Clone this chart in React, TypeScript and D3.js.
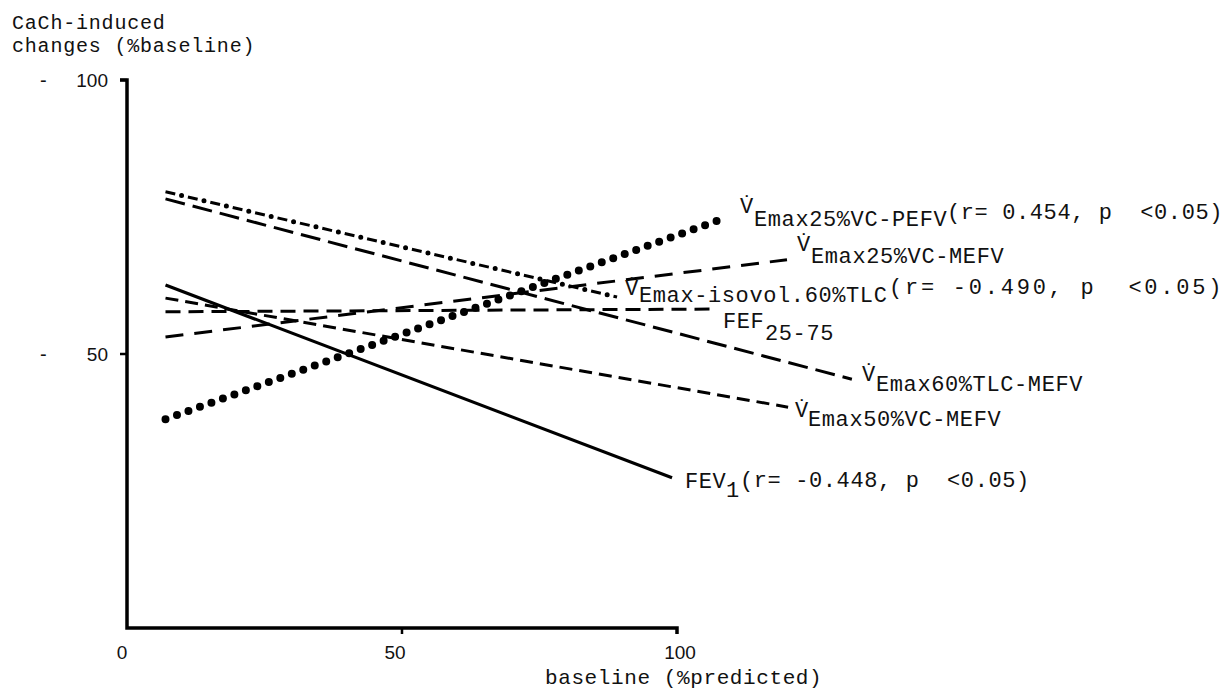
import * as d3 from "d3";
import React from "react";

// line endpoints: [baseline %pred, change %baseline]
const seriesKeys = ["isovol60TLC", "tlc60MEFV", "fev1", "vc50MEFV", "fef2575", "vc25MEFV", "vc25PEFV"];
const xStart = [7, 7, 7, 7, 7, 7, 7];
const xEnd = [89.1, 131.8, 99.1, 120.2, 106.5, 120, 108.7];
const yStart = [79.6, 78.3, 62.6, 60.2, 57.7, 53.1, 38.1];
const yEnd = [60.4, 45.4, 27.4, 40.3, 58.2, 67.2, 74.8];

const xTicks = [0, 50, 100];
const yTicks = [50, 100];

const W = 1225;
const H = 693;
const mono = "'Liberation Mono', 'DejaVu Sans Mono', monospace";
const sans = "'Liberation Sans', 'DejaVu Sans', sans-serif";

// stroke look per series
const styles: Record<string, { dash?: string; width: number; dots?: boolean; dashDot?: boolean }> = {
  isovol60TLC: { width: 3, dashDot: true },
  tlc60MEFV: { dash: "20 8", width: 3 },
  fev1: { width: 3.2 },
  vc50MEFV: { dash: "13 7", width: 3 },
  fef2575: { dash: "15 8", width: 3 },
  vc25MEFV: { dash: "18 11", width: 3 },
  vc25PEFV: { width: 8, dots: true },
};

type Piece = { t: string; x: number; y: number; len?: number };
const labels: Piece[][] = [
  [
    { t: "V\u0307", x: 740, y: 213 },
    { t: "Emax25%VC-PEFV", x: 754, y: 226 },
    { t: "(r= 0.454, p  <0.05)", x: 947, y: 219 },
  ],
  [
    { t: "V\u0307", x: 797, y: 251 },
    { t: "Emax25%VC-MEFV", x: 811, y: 263 },
  ],
  [
    { t: "V\u0307", x: 625, y: 295 },
    { t: "Emax-isovol.60%TLC", x: 639, y: 302 },
    { t: "(r= -0.490, p  <0.05)", x: 889, y: 294, len: 333 },
  ],
  [
    { t: "FEF", x: 723, y: 328 },
    { t: "25-75", x: 765, y: 340 },
  ],
  [
    { t: "V\u0307", x: 862, y: 381 },
    { t: "Emax60%TLC-MEFV", x: 876, y: 391 },
  ],
  [
    { t: "V\u0307", x: 795, y: 417 },
    { t: "Emax50%VC-MEFV", x: 808, y: 426 },
  ],
  [
    { t: "FEV", x: 685, y: 488 },
    { t: "1", x: 726, y: 497 },
    { t: "(r= -0.448, p  <0.05)", x: 740, y: 487 },
  ],
];

export default function App() {
  const x = d3.scaleLinear().domain([0, 100]).range([127, 677]);
  const y = d3.scaleLinear().domain([0, 100]).range([628, 80]);
  const line = d3
    .line<[number, number]>()
    .x((d) => x(d[0]))
    .y((d) => y(d[1]));

  return (
    <div style={{ position: "absolute", left: 0, top: 0 }}>
      <svg width={W} height={H} style={{ display: "block", background: "#fff" }}>
        {/* y title */}
        <text x={12} y={29} fontFamily={mono} fontSize={20} letterSpacing={0.8} fill="#111">CaCh-induced</text>
        <text x={12} y={52} fontFamily={mono} fontSize={20} letterSpacing={0.8} fill="#111" style={{ whiteSpace: "pre" }}>
          changes (%baseline)
        </text>

        {/* axes */}
        <path
          d={`M${x(0) - 7},${y(100)} L${x(0)},${y(100)} L${x(0)},${y(0)} L${x(100)},${y(0)} L${x(100)},${y(0) + 6}`}
          fill="none"
          stroke="#000"
          strokeWidth={3.5}
        />
        {yTicks.map((t) => (
          <g key={t}>
            <line x1={x(0) - 7} x2={x(0)} y1={y(t)} y2={y(t)} stroke="#000" strokeWidth={2.5} />
            <text x={40} y={y(t) + 7} fontFamily={sans} fontSize={20} fill="#111">
              -
            </text>
            <text x={108} y={y(t) + 7} textAnchor="end" fontFamily={sans} fontSize={19} fill="#111">
              {t}
            </text>
          </g>
        ))}
        {xTicks.map((t) => (
          <g key={t}>
            {t === 50 && <line x1={x(t)} x2={x(t)} y1={y(0)} y2={y(0) + 6} stroke="#000" strokeWidth={2.5} />}
            <text x={x(t) - (t === 0 ? 5 : t === 50 ? 7 : -3)} y={659} textAnchor="middle" fontFamily={sans} fontSize={19} fill="#111">
              {t}
            </text>
          </g>
        ))}
        <text x={545} y={684} fontFamily={mono} fontSize={21} letterSpacing={0.6} fill="#111" style={{ whiteSpace: "pre" }}>
          baseline (%predicted)
        </text>

        {/* regression lines */}
        {seriesKeys.map((k, i) => {
          const st = styles[k];
          const d = line([
            [xStart[i], yStart[i]],
            [xEnd[i], yEnd[i]],
          ]) ?? undefined;
          if (st.dots)
            return <path key={k} d={d} fill="none" stroke="#000" strokeWidth={st.width} strokeLinecap="round" strokeDasharray="0 12.2" />;
          if (st.dashDot)
            return (
              <g key={k}>
                <path d={d} fill="none" stroke="#000" strokeWidth={st.width} strokeDasharray="10 13" />
                <path d={d} fill="none" stroke="#000" strokeWidth={5} strokeLinecap="round" strokeDasharray="0 23" strokeDashoffset={-16.5} />
              </g>
            );
          return <path key={k} d={d} fill="none" stroke="#000" strokeWidth={st.width} strokeDasharray={st.dash} />;
        })}

        {/* annotations */}
        {labels.map((pcs, i) => (
          <g key={i}>
            {pcs.map((p, j) => (
              <text
                key={j}
                x={p.x}
                y={p.y}
                fontFamily={mono}
                fontSize={22}
                letterSpacing={0.6}
                fill="#111"
                style={{ whiteSpace: "pre" }}
                textLength={p.len}
                lengthAdjust={p.len ? "spacing" : undefined}
              >
                {p.t}
              </text>
            ))}
          </g>
        ))}
      </svg>
    </div>
  );
}
